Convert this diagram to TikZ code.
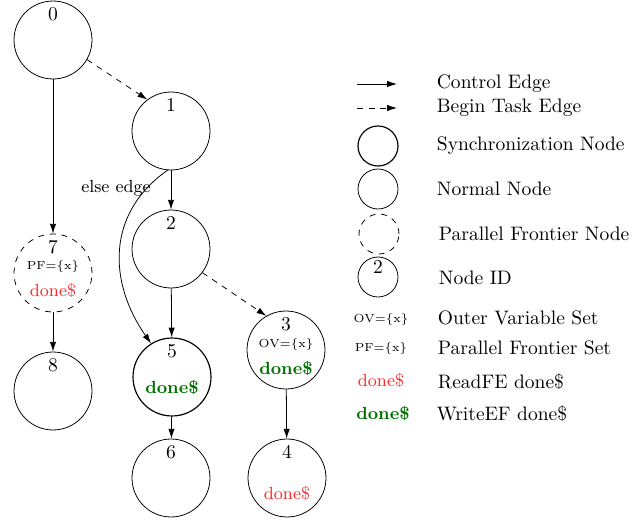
\documentclass[tikz,border=0pt]{standalone}
\usepackage{xcolor}
\usepackage{tikz}
\usetikzlibrary{arrows.meta}

\begin{document}
\begin{tikzpicture}[x=0.018cm, y=-0.018cm,
    nd/.style={draw, circle, minimum size=1.404cm, inner sep=0pt},
    syncnd/.style={nd, semithick},
    pfnd/.style={nd, dashed},
    lnd/.style={draw, circle, minimum size=0.72cm, inner sep=0pt},
    num/.style={anchor=north},
    setlbl/.style={font=\fontsize{6}{7}\selectfont},
    rd/.style={font=\small, red!85},
    wr/.style={font=\small\bfseries, green!45!black},
    ctrl/.style={-{Latex[length=5pt,width=3.2pt]}},
    task/.style={ctrl, dashed},
    lgd/.style={anchor=west}]
\useasboundingbox (0,0) rectangle (644,522);
% Graph
\node[nd, label={[num]north:0}] (n0) at (53,40) {};
\node[nd, label={[num]north:1}] (n1) at (171,131) {};
\node[nd, label={[num]north:2}] (n2) at (171,249) {};
\node[pfnd, label={[num]north:7}] (n7) at (53,273) {};
\node[nd, label={[num]north:8}] (n8) at (53,391) {};
\node[syncnd, label={[num]north:5}] (n5) at (172,377) {};
\node[nd, label={[num]north:3}] (n3) at (286,350) {};
\node[nd, label={[num]north:6}] (n6) at (171,478) {};
\node[nd, label={[num]north:4}] (n4) at (287,478) {};
% Node contents
\node[setlbl] (pf7) at (53,267) {PF=\{x\}};
\node[rd] (rd7) at (53,290) {done\$};
\node[setlbl] (ov3) at (286,345) {OV=\{x\}};
\node[wr] (wr3) at (286,368) {done\$};
\node[wr] (wr5) at (172,387) {done\$};
\node[rd] (rd4) at (287,493) {done\$};
% Edges
\draw[ctrl] (n0) -- (n7);
\draw[task] (n0.-30) -- (n1.127);
\draw[ctrl] (n1) -- (n2);
\draw[ctrl] (n1.265) to[out=215, in=125, looseness=1.1] (n5.122);
\node[font=\small] (else) at (116,188) {else edge};
\draw[ctrl] (n2) -- (n5);
\draw[task] (n2.-37) -- (n3.120);
\draw[ctrl] (n7) -- (n8);
\draw[ctrl] (n5) -- (n6);
\draw[ctrl] (n3) -- (n4);
% Legend
\coordinate (ca) at (357,84);
\coordinate (cb) at (397,84);
\draw[ctrl] (ca) -- (cb);
\node[lgd] (lctrl) at (430,84) {Control Edge};
\coordinate (ta) at (357,108);
\coordinate (tb) at (397,108);
\draw[task] (ta) -- (tb);
\node[lgd] (ltask) at (430,108) {Begin Task Edge};
\node[lnd, semithick] (lsync) at (378,146) {};
\node[lgd] (lsynct) at (430,146) {Synchronization Node};
\node[lnd] (lnorm) at (378,189) {};
\node[lgd] (lnormt) at (430,189) {Normal Node};
\node[lnd, dashed] (lpf) at (379,234) {};
\node[lgd] (lpft) at (432,234) {Parallel Frontier Node};
\node[lnd, label={[num, inner sep=2pt]north:2}] (lid) at (378,277) {};
\node[lgd] (lidt) at (432,278) {Node ID};
\node[setlbl] (lov) at (381,320) {OV=\{x\}};
\node[lgd] (lovt) at (431,318) {Outer Variable Set};
\node[setlbl] (lpfs) at (381,349) {PF=\{x\}};
\node[lgd] (lpfst) at (431,348) {Parallel Frontier Set};
\node[rd] (lrd) at (381,380) {done\$};
\node[lgd] (lrdt) at (431,382) {ReadFE done\$};
\node[wr] (lwr) at (383,413) {done\$};
\node[lgd] (lwrt) at (430,414) {WriteEF done\$};
\end{tikzpicture}
\end{document}
